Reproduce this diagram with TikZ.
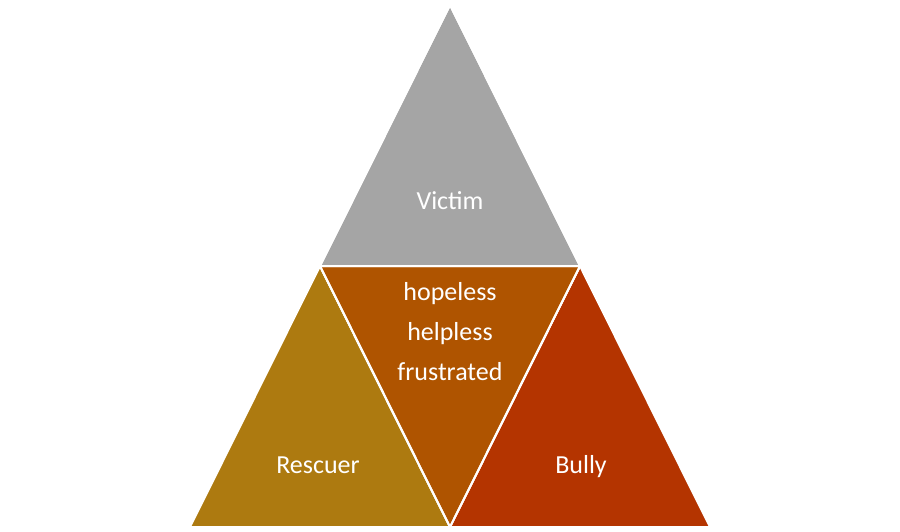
\documentclass[tikz,border=0pt]{standalone}
\usepackage{fontspec}
\setmainfont{Carlito}
\definecolor{victimgray}{RGB}{165,165,165}
\definecolor{rescuergold}{RGB}{173,122,16}
\definecolor{feelbrown}{RGB}{175,84,0}
\definecolor{bullyred}{RGB}{180,52,0}
\tikzset{
  part/.style={draw=white,line width=2pt,line join=miter},
  label/.style={text=white,anchor=base,inner sep=0pt,font=\fontsize{26}{40}\selectfont}
}
\begin{document}
\begin{tikzpicture}[line cap=round,x=1pt,y=-1pt]
    \useasboundingbox (0,0) rectangle (900,531);

    % corners
    \coordinate (apex) at (450,5);
    \coordinate (midleft) at (320,266);
    \coordinate (midright) at (580,266);
    \coordinate (baseleft) at (190,527);
    \coordinate (basemid) at (450,527);
    \coordinate (baseright) at (710,527);

    \fill [part,fill=victimgray] (apex) -- (midright) -- (midleft) -- cycle;
    \fill [part,fill=rescuergold] (midleft) -- (basemid) -- (baseleft) -- cycle;
    \fill [part,fill=bullyred] (midright) -- (baseright) -- (basemid) -- cycle;
    \fill [part,fill=feelbrown] (midleft) -- (midright) -- (basemid) -- cycle;
    \draw [part] (apex) -- (midright) -- (midleft) -- cycle;
    \draw [part] (midleft) -- (basemid) -- (midright);

    \node [label] (victim) at (450,209) {Victim};
    \node [label] (hopeless) at (450,300) {hopeless};
    \node [label] (helpless) at (450,340) {helpless};
    \node [label] (frustrated) at (450,380) {frustrated};
    \node [label] (rescuer) at (318,473) {Rescuer};
    \node [label] (bully) at (581,473) {Bully};
\end{tikzpicture}
\end{document}
